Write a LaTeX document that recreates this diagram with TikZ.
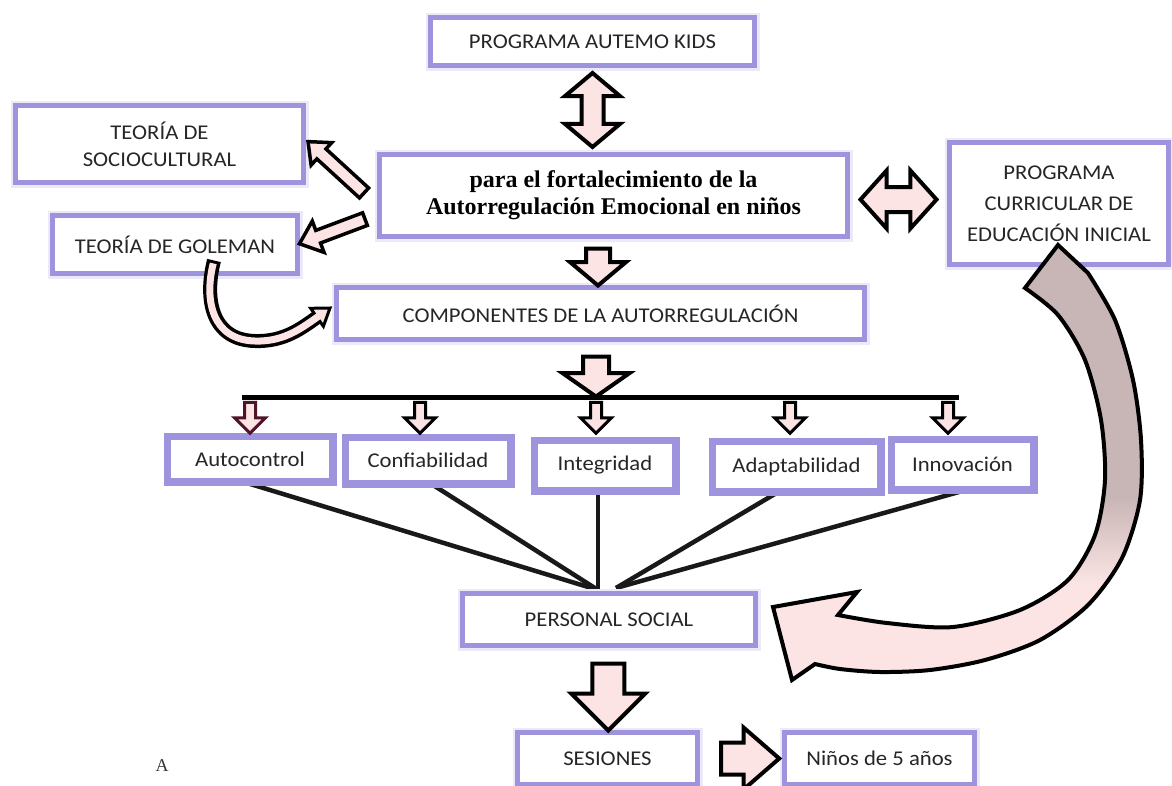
\documentclass[tikz,border=0pt]{standalone}
\usepackage{fontspec}
\setmainfont{Carlito}[FakeStretch=1.08]
\newfontfamily\serifft{Liberation Serif}
\usetikzlibrary{shapes.arrows,calc}
\definecolor{lav}{RGB}{158,148,222}
\definecolor{pinkf}{RGB}{252,228,228}
\definecolor{brownf}{RGB}{200,181,181}
\definecolor{maroonf}{RGB}{80,20,40}
\pgfdeclareverticalshading{bigarrowshade}{100bp}{color(0bp)=(pinkf); color(36bp)=(pinkf); color(46bp)=(brownf); color(100bp)=(brownf)}
\begin{document}
\begin{tikzpicture}[x=1pt,y=-1pt,
  box/.style={draw=lav, line width=5pt, fill=white, inner sep=0pt, align=center,
     font=\fontsize{21}{27}\selectfont, text=black!85,
     preaction={draw=lav!20, line width=10pt}},
  fat/.style={shape=single arrow, draw=black, line width=4pt, fill=pinkf, inner xsep=0pt, line join=miter},
  fattwo/.style={shape=double arrow, draw=black, line width=4pt, fill=pinkf, inner xsep=0pt, line join=miter},
  smallarr/.style={shape=single arrow, draw=black, line width=3pt, fill=pinkf, inner xsep=0pt, inner ysep=4pt,
     minimum width=28pt, single arrow head extend=10pt, minimum height=31pt, rotate=-90, line join=miter},
  link/.style={line width=4.5pt, black!90},
]
\useasboundingbox (0,0) rectangle (1172,785);
\fill[white] (0,0) rectangle (1172,785);

\coordinate (cL) at (598,590);
\coordinate (cR) at (616,588);

% boxes
\node[box, minimum width=324pt, minimum height=48pt] (top) at (592.5,41.5) {PROGRAMA AUTEMO KIDS};
\node[box, minimum width=288pt, minimum height=77pt] (socio) at (159.5,144) {TEORÍA DE\\SOCIOCULTURAL};
\node[box, minimum width=245pt, minimum height=58pt] (gole) at (175,244.5) {TEORÍA DE GOLEMAN};
\node[box, minimum width=468pt, minimum height=82pt, font=\serifft\bfseries\fontsize{24}{27}\selectfont, text=black] (cent) at (613.5,195.5) {para el fortalecimiento de la\\Autorregulación Emocional en niños};
\node[box, minimum width=219pt, minimum height=122pt, font=\fontsize{21}{31}\selectfont] (right) at (1059,203.5) {PROGRAMA\\CURRICULAR DE\\EDUCACIÓN INICIAL};
\node[box, minimum width=528pt, minimum height=52pt] (comp) at (600.5,313.5) {COMPONENTES DE LA AUTORREGULACIÓN};

\node[box, minimum width=163pt, minimum height=43pt] (autoc) at (250,459) {Autocontrol};
\node[box, minimum width=163pt, minimum height=44pt] (conf) at (428,460.5) {Confiabilidad};
\node[box, minimum width=139pt, minimum height=48pt] (integ) at (605,465.5) {Integridad};
\node[box, minimum width=166pt, minimum height=48pt] (adapt) at (796.5,466.5) {Adaptabilidad};
\node[box, minimum width=140pt, minimum height=48pt] (innov) at (962.5,464.5) {Innovación};

% converging connectors
\draw[link] ([xshift=-3pt]autoc.south) -- (cL);
\draw[link] ([xshift=5pt]conf.south) -- (cL);
\draw[link] ([xshift=-7pt]integ.south) -- (cL);
\draw[link] ([xshift=-20pt]adapt.south) -- (cR);
\draw[link] (innov.south) -- (cR);

\node[box, minimum width=293pt, minimum height=52pt] (ps) at (609,619.5) {PERSONAL SOCIAL};
\node[box, minimum width=180pt, minimum height=52pt] (ses) at (607.5,758.5) {SESIONES};
\node[box, minimum width=190pt, minimum height=52pt] (ninos) at (879.5,758.5) {Niños de 5 años};

% redraw borders of the small boxes over the line starts
\foreach \n in {autoc,conf,integ,adapt,innov}{
  \draw[draw=lav, line width=5pt] (\n.south west) rectangle (\n.north east);
}

% block arrows
\node[fattwo, inner ysep=9pt, rotate=90, minimum height=74pt, minimum width=51pt, double arrow head extend=16.5pt, double arrow tip angle=100] (a1) at ($(top.south)!0.5!(top.south|-cent.north)$) {};
\node[fat, inner ysep=10pt, rotate=-90, minimum height=37pt, minimum width=52pt, single arrow head extend=16pt, single arrow tip angle=100] (a2) at ($(cent.south)!0.5!(comp.north)+(-9,0)$) {};
\node[fat, inner ysep=11pt, rotate=-90, minimum height=40pt, minimum width=63pt, single arrow head extend=20.5pt, single arrow tip angle=110] (a3) at ($(comp.south)+(-4.5,30)$) {};
\node[fattwo, inner ysep=10.5pt, minimum height=76pt, minimum width=54pt, double arrow head extend=16.5pt, double arrow tip angle=96] (a4) at ($(cent.east)!0.5!(right.west)$) {};
\node[fat, inner ysep=5pt, line width=3.5pt, rotate=137.5, minimum height=76pt, minimum width=27pt, single arrow head extend=8.5pt, single arrow tip angle=80] (a5) at ($(cent.west)+(-38,-25.5)$) {};
\node[fat, inner ysep=5pt, line width=3.5pt, rotate=200.6, minimum height=70pt, minimum width=30pt, single arrow head extend=10pt, single arrow tip angle=80] (a6) at ($(cent.west)+(-41,34.5)$) {};
\node[fat, inner ysep=14pt, rotate=-90, minimum height=67pt, minimum width=70pt, single arrow head extend=21pt, single arrow tip angle=90] (a7) at ($(ps.south)!0.5!(ses.north)$) {};
\node[fat, inner ysep=14pt, minimum height=58pt, minimum width=58pt, single arrow head extend=15pt, single arrow tip angle=82] (a8) at ($(ses.east)!0.5!(ninos.west)$) {};

% bar and small arrows
\coordinate (barL) at (242,397);
\coordinate (barR) at (959,397);
\draw[line width=5pt, black] (barL) -- (barR);
\node[smallarr, draw=maroonf] (s1) at (250,415) {};
\node[smallarr] (s2) at (420,415) {};
\node[smallarr] (s3) at (596,415) {};
\node[smallarr] (s4) at (790,415) {};
\node[smallarr] (s5) at (948,415) {};

% curved arrow Goleman -> Componentes
\coordinate (gS) at ($(gole.south)+(39,-15.5)$);
\coordinate (gE) at (317,317.3);
\filldraw[fill=pinkf, draw=black, line width=3pt, line join=miter] (330,308) -- (323.4,326.3) -- (310.6,308.3) -- cycle;
\draw[line width=14pt, black] (gS) .. controls (204,300) and (212,340) .. (255,341) .. controls (285,342) and (303,327) .. (gE);
\draw[line width=7pt, pinkf, shorten <=3pt, shorten >=-4pt] (gS) .. controls (204,300) and (212,340) .. (255,341) .. controls (285,342) and (303,327) .. (gE);

% big curved arrow Programa curricular -> Personal social
\shadedraw[shading=bigarrowshade, draw=black, line width=4pt, line join=miter]
  (1058,245) -- plot[smooth] coordinates {(1088,273) (1115,320) (1133,380) (1141,440) (1140,500) (1122,558) (1088,605) (1040,640) (985,660) (930,670) (880,672) (840,669) (815,664)}
  -- (792,680) -- (773,607) -- (857,592) --
  plot[smooth] coordinates {(838,615) (887,623) (953,627) (1020,610) (1068,580) (1095,535) (1105,480) (1101,420) (1085,360) (1058,315) (1025,288)}
  -- cycle;

\node[font=\serifft\fontsize{18}{18}\selectfont, text=black!80] (lblA) at (162,766) {A};
\end{tikzpicture}
\end{document}
